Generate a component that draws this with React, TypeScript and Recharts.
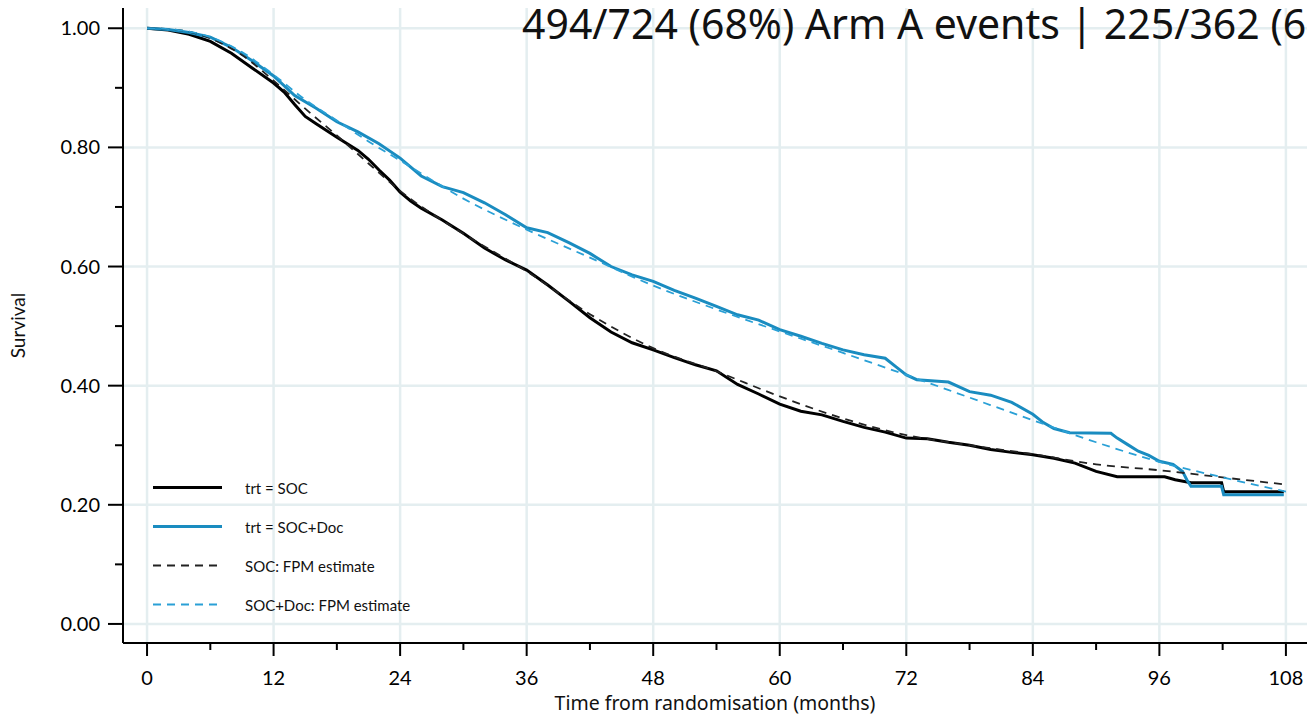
import { LineChart, Line, XAxis, YAxis, CartesianGrid, Legend } from "recharts";

// Kaplan-Meier estimates (months, survival)
const socTimes = [0, 2, 4, 6, 8, 10, 12, 13, 14, 15, 16, 18, 20, 21, 22, 23, 24, 25, 26, 28, 30, 32, 34, 36, 38, 40, 42, 44, 46, 48, 50, 52, 54, 56, 58, 60, 62, 64, 66, 68, 70, 72, 74, 76, 78, 80, 82, 84, 86, 88, 90, 92, 96.5, 97.5, 99, 101.9, 102.1, 107.8];
const socSurv = [1.0, 0.997, 0.99, 0.978, 0.958, 0.933, 0.908, 0.893, 0.872, 0.852, 0.84, 0.817, 0.795, 0.78, 0.762, 0.745, 0.725, 0.71, 0.698, 0.678, 0.656, 0.631, 0.611, 0.594, 0.569, 0.542, 0.514, 0.49, 0.472, 0.46, 0.447, 0.435, 0.425, 0.402, 0.386, 0.369, 0.357, 0.351, 0.34, 0.33, 0.322, 0.312, 0.311, 0.305, 0.3, 0.293, 0.288, 0.284, 0.278, 0.27, 0.256, 0.247, 0.247, 0.242, 0.237, 0.237, 0.222, 0.222];

const docTimes = [0, 2, 4, 6, 8, 10, 12, 14, 16, 18, 20, 22, 24, 26, 28, 30, 32, 34, 36, 38, 40, 42, 44, 46, 48, 50, 52, 54, 56, 58, 60, 62, 64, 66, 68, 70, 71, 72, 73, 76, 78, 80, 82, 84, 85, 86, 87.5, 91.4, 92, 93, 94, 95, 96, 97.3, 98.2, 98.6, 99, 101.9, 102.1, 107.8];
const docSurv = [1.0, 0.998, 0.993, 0.985, 0.968, 0.945, 0.92, 0.887, 0.866, 0.843, 0.826, 0.806, 0.782, 0.752, 0.734, 0.724, 0.707, 0.687, 0.665, 0.657, 0.64, 0.622, 0.6, 0.586, 0.575, 0.56, 0.547, 0.533, 0.519, 0.51, 0.494, 0.483, 0.471, 0.46, 0.452, 0.446, 0.432, 0.418, 0.41, 0.406, 0.39, 0.384, 0.372, 0.352, 0.338, 0.328, 0.321, 0.32, 0.312, 0.301, 0.29, 0.283, 0.273, 0.268, 0.256, 0.242, 0.231, 0.231, 0.217, 0.217];

// flexible parametric model fits
const fpmTimes = [0, 3, 6, 9, 12, 15, 18, 21, 24, 30, 36, 42, 48, 54, 60, 66, 72, 78, 84, 90, 96, 102, 108];
const socFpm = [1.0, 0.997, 0.983, 0.955, 0.912, 0.865, 0.82, 0.773, 0.727, 0.655, 0.592, 0.52, 0.463, 0.424, 0.382, 0.345, 0.317, 0.3, 0.285, 0.268, 0.258, 0.246, 0.234];
const docFpm = [1.0, 0.997, 0.985, 0.96, 0.922, 0.88, 0.845, 0.81, 0.778, 0.714, 0.662, 0.615, 0.568, 0.528, 0.491, 0.455, 0.418, 0.38, 0.342, 0.305, 0.272, 0.246, 0.222];

const xTicks = [0, 6, 12, 18, 24, 30, 36, 42, 48, 54, 60, 66, 72, 78, 84, 90, 96, 102, 108];
const xMajor = [0, 12, 24, 36, 48, 60, 72, 84, 96, 108];
const yTicks = [0, 0.1, 0.2, 0.3, 0.4, 0.5, 0.6, 0.7, 0.8, 0.9, 1.0];
const yMajor = [0, 0.2, 0.4, 0.6, 0.8, 1.0];

const legendItems = [
  { label: "trt = SOC", color: "#000000", dash: undefined, width: 3 },
  { label: "trt = SOC+Doc", color: "#1a8cc0", dash: undefined, width: 3 },
  { label: "SOC: FPM estimate", color: "#222222", dash: "8 6", width: 2 },
  { label: "SOC+Doc: FPM estimate", color: "#2aa0d6", dash: "8 6", width: 2 },
];

const toRows = (times: number[], vals: number[]) => times.map((t, i) => ({ t, s: vals[i] }));

const socKm = toRows(socTimes, socSurv);
const docKm = toRows(docTimes, docSurv);
const socFit = toRows(fpmTimes, socFpm);
const docFit = toRows(fpmTimes, docFpm);

const tickFont = "Lato, 'DejaVu Sans', sans-serif";

const XTick = (props: any) => {
  const { x, y, payload } = props;
  const major = xMajor.includes(payload.value);
  return (
    <g>
      <line x1={x} x2={x} y1={y} y2={y + (major ? 13 : 7)} stroke="#000" strokeWidth={2} />
      {major && (
        <text x={x} y={y + 42} textAnchor="middle" fontSize={20} fontFamily={tickFont} fill="#000">
          {payload.value}
        </text>
      )}
    </g>
  );
};

const YTick = (props: any) => {
  const { x, y, payload } = props;
  const major = yMajor.some((v) => Math.abs(v - payload.value) < 1e-6);
  return (
    <g>
      <line x1={x - (major ? 15 : 8)} x2={x} y1={y} y2={y} stroke="#000" strokeWidth={2} />
      {major && (
        <text x={x - 23} y={y} dy="0.35em" textAnchor="end" fontSize={20} fontFamily={tickFont} fill="#000">
          {payload.value.toFixed(2)}
        </text>
      )}
    </g>
  );
};

const renderLegend = () => (
  <div style={{ fontFamily: tickFont, fontSize: 15, color: "#111" }}>
    {legendItems.map((item) => (
      <div key={item.label} style={{ height: 39, display: "flex", alignItems: "center" }}>
        <svg width={95} height={39}>
          <line x1={3} x2={72} y1={19.5} y2={19.5} stroke={item.color} strokeWidth={item.width} strokeDasharray={item.dash} />
        </svg>
        <span>{item.label}</span>
      </div>
    ))}
  </div>
);

export default function App() {
  return (
    <div style={{ position: "absolute", left: 0, top: 0, width: 1307, height: 717, overflow: "hidden", background: "#fff" }}>
      <LineChart width={1307} height={717} margin={{ top: 8, right: 0, left: 0, bottom: 0 }}>
        <CartesianGrid
          stroke="#e4eef0"
          strokeWidth={2.5}
          horizontalValues={yMajor}
          verticalValues={xMajor}
        />
        <XAxis
          dataKey="t"
          type="number"
          domain={[-2.28, 110.0]}
          allowDataOverflow
          ticks={xTicks}
          interval={0}
          tick={<XTick />}
          tickLine={false}
          tickSize={0}
          tickMargin={0}
          height={74}
          axisLine={{ stroke: "#000", strokeWidth: 2 }}
          label={{
            value: "Time from randomisation (months)",
            position: "insideBottom",
            offset: 7,
            style: { fontFamily: "'Noto Sans', sans-serif", fontSize: 19.5, fill: "#111" },
          }}
        />
        <YAxis
          type="number"
          domain={[-0.032, 1.034]}
          allowDataOverflow
          ticks={yTicks}
          interval={0}
          tick={<YTick />}
          tickLine={false}
          tickSize={0}
          tickMargin={0}
          width={123}
          axisLine={{ stroke: "#000", strokeWidth: 2 }}
          label={{
            value: "Survival",
            angle: -90,
            position: "insideLeft",
            offset: 18,
            style: { textAnchor: "middle", fontFamily: tickFont, fontSize: 19, fill: "#111" },
          }}
        />
        <Legend
          layout="vertical"
          align="center"
          verticalAlign="middle"
          content={renderLegend}
          wrapperStyle={{ left: 150, top: 468, width: 340 }}
        />
        <Line data={socKm} dataKey="s" type="linear" stroke="#000000" strokeWidth={3} dot={false} isAnimationActive={false} />
        <Line data={docKm} dataKey="s" type="linear" stroke="#1a8cc0" strokeWidth={3} dot={false} isAnimationActive={false} />
        <Line data={socFit} dataKey="s" type="monotone" stroke="#222222" strokeWidth={1.8} strokeDasharray="8 6" dot={false} isAnimationActive={false} />
        <Line data={docFit} dataKey="s" type="monotone" stroke="#2aa0d6" strokeWidth={1.8} strokeDasharray="8 6" dot={false} isAnimationActive={false} />
      </LineChart>
      <div
        style={{
          position: "absolute",
          left: 522,
          top: 3,
          whiteSpace: "nowrap",
          fontFamily: "'Noto Sans', sans-serif",
          fontSize: 41,
          lineHeight: 1,
          color: "#111",
        }}
      >
        494/724 (68%) Arm A events | 225/362 (62%) Arm C events
      </div>
    </div>
  );
}
